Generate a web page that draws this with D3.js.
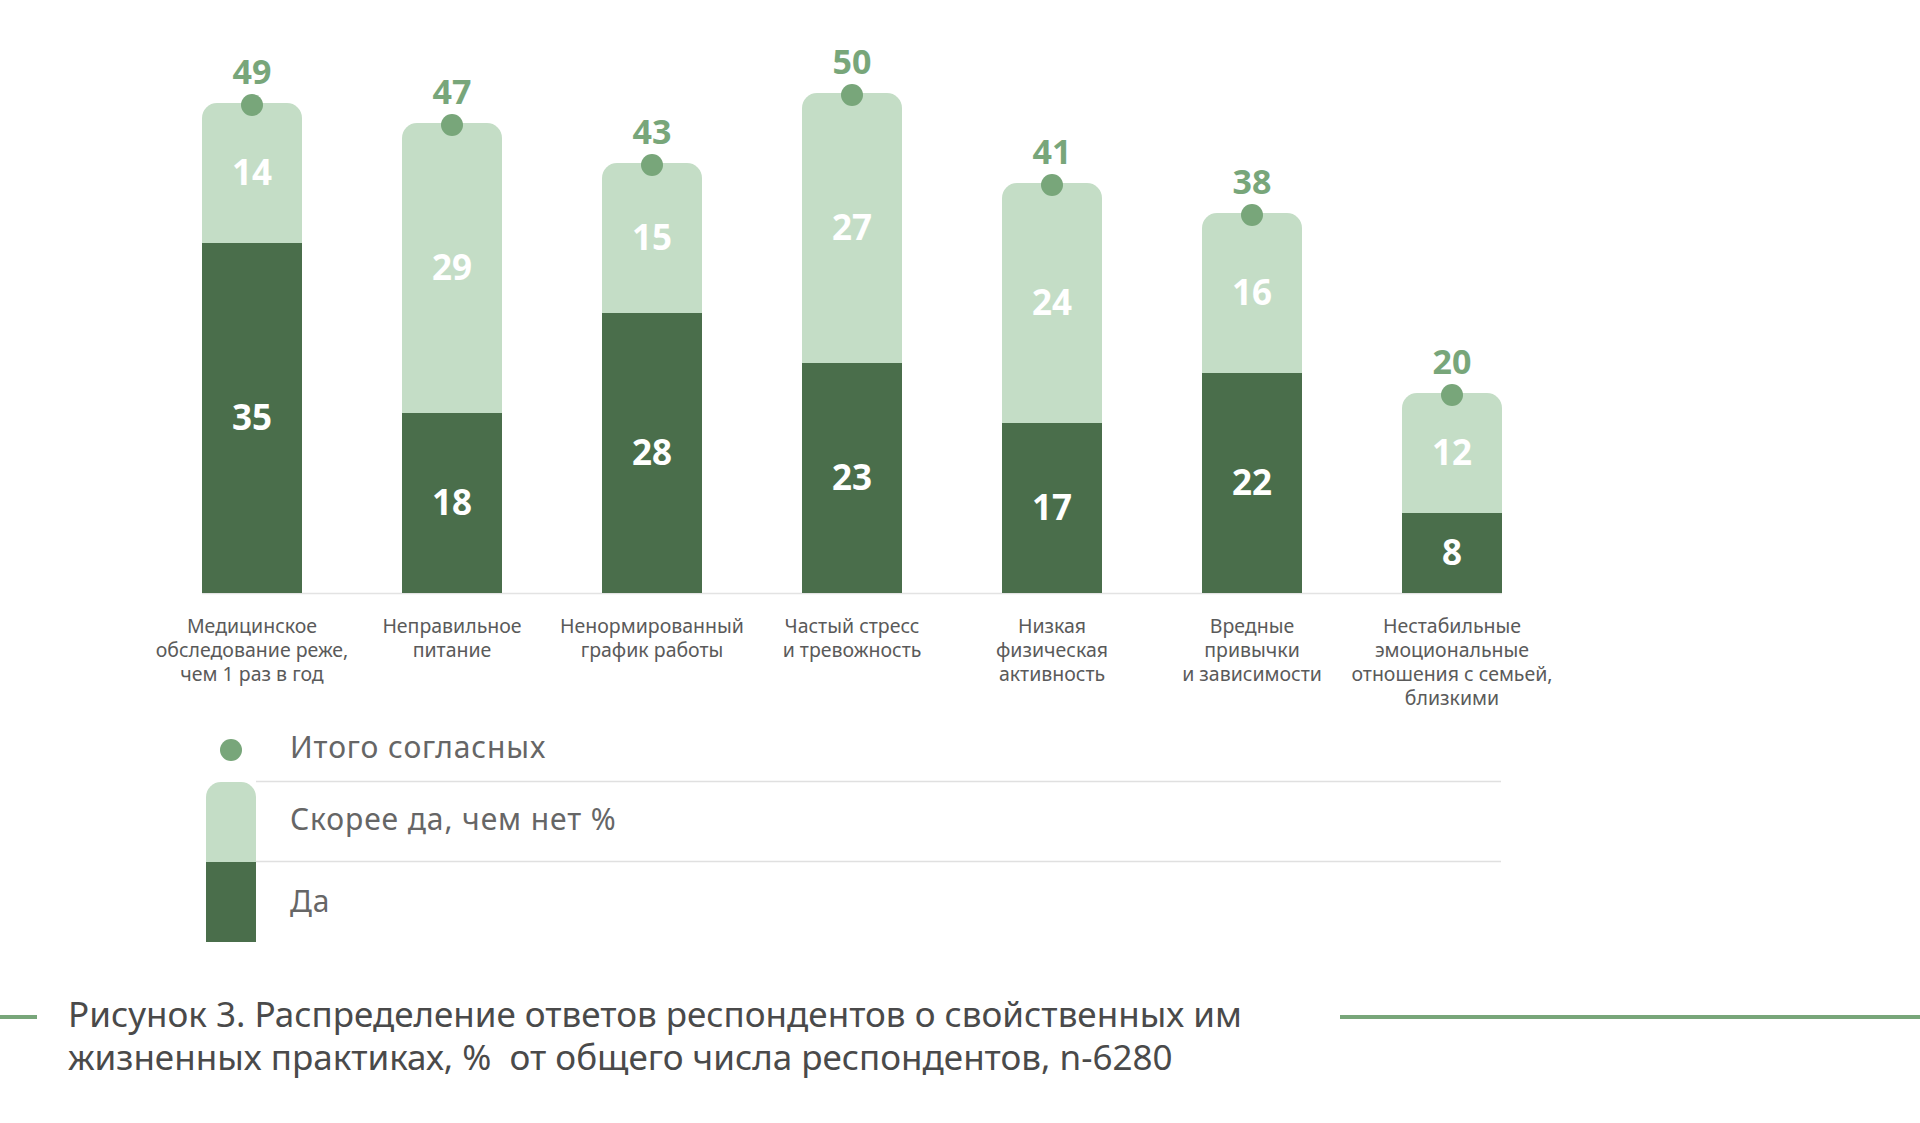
<!DOCTYPE html>
<html>
<head>
<meta charset="utf-8">
<script src="https://cdn.jsdelivr.net/npm/d3@7"></script>
<style>
html,body{margin:0;padding:0;background:#fff;}
svg{display:block;}
text{font-family:"Noto Sans",sans-serif;white-space:pre;}
</style>
</head>
<body>
<svg id="chart" width="1920" height="1123"></svg>
<script>
const categories = [
  ["Медицинское","обследование реже,","чем 1 раз в год"],
  ["Неправильное","питание"],
  ["Ненормированный","график работы"],
  ["Частый стресс","и тревожность"],
  ["Низкая","физическая","активность"],
  ["Вредные","привычки","и зависимости"],
  ["Нестабильные","эмоциональные","отношения с семьей,","близкими"]
];
const yesValues = [35, 18, 28, 23, 17, 22, 8];
const ratherYesValues = [14, 29, 15, 27, 24, 16, 12];
const totalValues = [49, 47, 43, 50, 41, 38, 20];
const legendLabels = ["Итого согласных", "Скорее да, чем нет %", "Да"];
const titleLines = [
  "Рисунок 3. Распределение ответов респондентов о свойственных им",
  "жизненных практиках, %  от общего числа респондентов, n-6280"
];

const C_DARK = "#4a6e4b", C_LIGHT = "#c4ddc6", C_DOT = "#78a67a", C_TEXT = "#5a5a5a";

const svg = d3.select("#chart");
const ids = categories.map((c, i) => i);
const x = d3.scaleBand().domain(ids).range([152, 1552]).paddingInner(0.5).paddingOuter(0.25);
const y = d3.scaleLinear().domain([0, 50]).range([593, 93]);
const bw = x.bandwidth();
const R = 15;

function topRounded(x0, y0, w, h, r) {
  const p = d3.path();
  p.moveTo(x0, y0 + h);
  p.lineTo(x0, y0 + r);
  p.arcTo(x0, y0, x0 + r, y0, r);
  p.lineTo(x0 + w - r, y0);
  p.arcTo(x0 + w, y0, x0 + w, y0 + r, r);
  p.lineTo(x0 + w, y0 + h);
  p.closePath();
  return p.toString();
}

// baseline
svg.append("line").attr("x1", x(0)).attr("x2", x(6) + bw)
  .attr("y1", y(0) + 0.5).attr("y2", y(0) + 0.5).attr("stroke", "#e3e3e3").attr("stroke-width", 1.5);

const g = svg.append("g");
ids.forEach(i => {
  const x0 = x(i), cx = x0 + bw / 2;
  const yes = yesValues[i], ry = ratherYesValues[i], tot = totalValues[i];
  g.append("path").attr("d", topRounded(x0, y(yes + ry), bw, y(yes) - y(yes + ry), R)).attr("fill", C_LIGHT);
  g.append("rect").attr("x", x0).attr("y", y(yes)).attr("width", bw).attr("height", y(0) - y(yes)).attr("fill", C_DARK);
  g.append("text").attr("x", cx).attr("y", (y(0) + y(yes)) / 2 + 12).attr("text-anchor", "middle")
    .attr("fill", "#fff").attr("font-weight", 700).attr("font-size", 35).text(yes);
  g.append("text").attr("x", cx).attr("y", (y(yes) + y(yes + ry)) / 2 + 12).attr("text-anchor", "middle")
    .attr("fill", "#fff").attr("font-weight", 700).attr("font-size", 35).text(ry);
  g.append("circle").attr("cx", cx).attr("cy", y(tot) + 2).attr("r", 11).attr("fill", C_DOT);
  g.append("text").attr("x", cx).attr("y", y(tot) - 19).attr("text-anchor", "middle")
    .attr("fill", C_DOT).attr("font-weight", 700).attr("font-size", 34).text(tot);
  const t = g.append("text").attr("text-anchor", "middle").attr("fill", C_TEXT).attr("font-size", 19.5);
  categories[i].forEach((line, k) => {
    t.append("tspan").attr("x", cx).attr("y", 633 + k * 24).text(line);
  });
});

// legend
const lg = svg.append("g");
lg.append("circle").attr("cx", 231).attr("cy", 750).attr("r", 11).attr("fill", C_DOT);
lg.append("path").attr("d", topRounded(206, 782, 50, 80, R)).attr("fill", C_LIGHT);
lg.append("rect").attr("x", 206).attr("y", 862).attr("width", 50).attr("height", 80).attr("fill", C_DARK);
[782, 862].forEach(yy => lg.append("line").attr("x1", 256).attr("x2", 1501)
  .attr("y1", yy - 0.5).attr("y2", yy - 0.5).attr("stroke", "#e0e0e0").attr("stroke-width", 1.5));
[758, 830, 912].forEach((yy, k) => lg.append("text").attr("x", 290).attr("y", yy)
  .attr("fill", "#666").attr("font-size", 30).attr("letter-spacing", 0.9).text(legendLabels[k]));

// title
svg.append("line").attr("x1", 0).attr("x2", 37).attr("y1", 1017).attr("y2", 1017).attr("stroke", C_DOT).attr("stroke-width", 4);
svg.append("line").attr("x1", 1340).attr("x2", 1920).attr("y1", 1017).attr("y2", 1017).attr("stroke", C_DOT).attr("stroke-width", 4);
titleLines.forEach((l, k) => svg.append("text").attr("x", 68).attr("y", 1027 + k * 43)
  .attr("fill", "#4a4a4a").attr("font-size", 35).text(l));
</script>
</body>
</html>
